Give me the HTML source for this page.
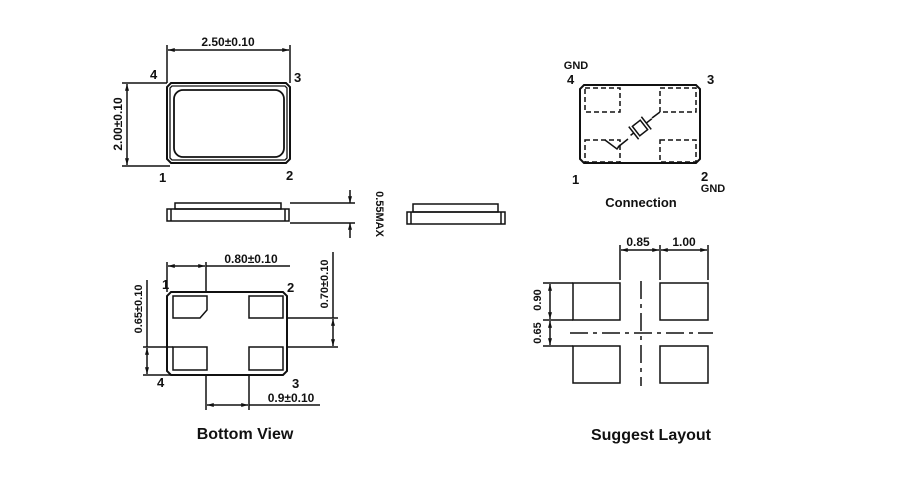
<!DOCTYPE html>
<html><head><meta charset="utf-8"><style>
html,body{margin:0;padding:0;background:#fff;}
svg{display:block;}
text{font-family:"Liberation Sans",Arial,sans-serif;font-weight:bold;fill:#111;}
</style></head><body>
<svg width="900" height="500" viewBox="0 0 900 500" xmlns="http://www.w3.org/2000/svg">
<defs>
<marker id="a" viewBox="0 0 10 10" refX="10" refY="5" markerWidth="6" markerHeight="4.5" orient="auto-start-reverse"><path d="M0,2 L10,5 L0,8 z" fill="#111"/></marker>
</defs>
<g stroke="#111" fill="none" stroke-width="1.5">
<!-- TOP VIEW -->
<path d="M171,83 H286 L290,87 V159 L286,163 H171 L167,159 V87 Z" stroke-width="2"/>
<path d="M172,86 H285 L287,88 V158 L285,160 H172 L170,158 V88 Z" stroke-width="1.3"/>
<rect x="174" y="90" width="110" height="67" rx="9" stroke-width="1.8"/>
<line x1="167" y1="45" x2="167" y2="83"/>
<line x1="290" y1="45" x2="290" y2="83"/>
<line x1="168" y1="50" x2="289" y2="50" marker-start="url(#a)" marker-end="url(#a)"/>
<line x1="122" y1="83" x2="167" y2="83"/>
<line x1="122" y1="166" x2="170" y2="166"/>
<line x1="127" y1="84" x2="127" y2="165" marker-start="url(#a)" marker-end="url(#a)"/>
<!-- side view 1 -->
<rect x="175" y="203" width="106" height="6"/>
<rect x="167" y="209" width="122" height="12"/>
<line x1="171" y1="209" x2="171" y2="221"/><line x1="285" y1="209" x2="285" y2="221"/>
<line x1="290" y1="203" x2="355" y2="203"/>
<line x1="290" y1="223" x2="355" y2="223"/>
<line x1="350" y1="190" x2="350" y2="203" marker-end="url(#a)"/>
<line x1="350" y1="238" x2="350" y2="223" marker-end="url(#a)"/>
<!-- side view 2 -->
<rect x="413" y="204" width="85" height="8"/>
<rect x="407" y="212" width="98" height="12"/>
<line x1="411" y1="212" x2="411" y2="224"/><line x1="501" y1="212" x2="501" y2="224"/>
<!-- BOTTOM VIEW -->
<path d="M171,292 H283 L287,296 V371 L283,375 H171 L167,371 V296 Z" stroke-width="2"/>
<path d="M173,296 H207 V310 L200,318 H173 Z"/>
<rect x="249" y="296" width="34" height="22"/>
<rect x="173" y="347" width="34" height="23"/>
<rect x="249" y="347" width="34" height="23"/>
<line x1="167" y1="262" x2="167" y2="292"/>
<line x1="206" y1="262" x2="206" y2="292"/>
<line x1="168" y1="266" x2="205" y2="266" marker-start="url(#a)" marker-end="url(#a)"/>
<line x1="206" y1="266" x2="290" y2="266"/>
<line x1="143" y1="347" x2="173" y2="347"/>
<line x1="143" y1="375" x2="173" y2="375"/>
<line x1="147" y1="280" x2="147" y2="347"/>
<line x1="147" y1="348" x2="147" y2="374" marker-start="url(#a)" marker-end="url(#a)"/>
<line x1="287" y1="318" x2="338" y2="318"/>
<line x1="287" y1="347" x2="338" y2="347"/>
<line x1="333" y1="252" x2="333" y2="318"/>
<line x1="333" y1="319" x2="333" y2="346" marker-start="url(#a)" marker-end="url(#a)"/>
<line x1="206" y1="375" x2="206" y2="410"/>
<line x1="249" y1="375" x2="249" y2="410"/>
<line x1="207" y1="405" x2="248" y2="405" marker-start="url(#a)" marker-end="url(#a)"/>
<line x1="249" y1="405" x2="320" y2="405"/>
<!-- CONNECTION -->
<path d="M584,85 H696 L700,89 V159 L696,163 H584 L580,159 V89 Z" stroke-width="2"/>
<g stroke-dasharray="5,3">
<rect x="585" y="88" width="35" height="24"/>
<rect x="660" y="88" width="36" height="24"/>
<rect x="585" y="140" width="35" height="22"/>
<rect x="660" y="140" width="36" height="22"/>
</g>
<path d="M605,140 L617,149 L620,145"/>
<line x1="618" y1="147" x2="628" y2="139"/>
<line x1="660" y1="112" x2="652" y2="118"/>
<g transform="translate(640,128) rotate(-38)">
<line x1="-12" y1="0" x2="-8" y2="0"/>
<line x1="-8" y1="-8" x2="-8" y2="8"/>
<rect x="-5" y="-6" width="10" height="12"/>
<line x1="8" y1="-8" x2="8" y2="8"/>
<line x1="8" y1="0" x2="15" y2="0"/>
</g>
<!-- SUGGEST LAYOUT -->
<rect x="573" y="283" width="47" height="37"/>
<rect x="660" y="283" width="48" height="37"/>
<rect x="573" y="346" width="47" height="37"/>
<rect x="660" y="346" width="48" height="37"/>
<line x1="570" y1="333" x2="713" y2="333" stroke-dasharray="18,5,4,5"/>
<line x1="641" y1="281" x2="641" y2="386" stroke-dasharray="18,5,4,5"/>
<line x1="620" y1="245" x2="620" y2="280"/>
<line x1="660" y1="245" x2="660" y2="280"/>
<line x1="708" y1="245" x2="708" y2="280"/>
<line x1="621" y1="250" x2="659" y2="250" marker-start="url(#a)" marker-end="url(#a)"/>
<line x1="661" y1="250" x2="707" y2="250" marker-start="url(#a)" marker-end="url(#a)"/>
<line x1="543" y1="283" x2="573" y2="283"/>
<line x1="543" y1="320" x2="573" y2="320"/>
<line x1="543" y1="346" x2="573" y2="346"/>
<line x1="550" y1="284" x2="550" y2="319" marker-start="url(#a)" marker-end="url(#a)"/>
<line x1="550" y1="321" x2="550" y2="345" marker-start="url(#a)" marker-end="url(#a)"/>
</g>
<!-- labels -->
<g font-size="12">
<text x="228" y="46" text-anchor="middle">2.50±0.10</text>
<text x="150" y="79" font-size="13">4</text>
<text x="294" y="82" font-size="13">3</text>
<text x="159" y="182" font-size="13">1</text>
<text x="286" y="180" font-size="13">2</text>
<text transform="translate(122,124) rotate(-90)" text-anchor="middle">2.00±0.10</text>
<text transform="translate(376,214) rotate(90)" text-anchor="middle" font-size="11">0.55MAX</text>
<text x="251" y="263" text-anchor="middle">0.80±0.10</text>
<text transform="translate(142,309) rotate(-90)" text-anchor="middle" font-size="11">0.65±0.10</text>
<text transform="translate(328,284) rotate(-90)" text-anchor="middle" font-size="11">0.70±0.10</text>
<text x="162" y="289" font-size="13">1</text>
<text x="287" y="292" font-size="13">2</text>
<text x="157" y="387" font-size="13">4</text>
<text x="292" y="388" font-size="13">3</text>
<text x="291" y="402" text-anchor="middle">0.9±0.10</text>
<text x="245" y="439" text-anchor="middle" font-size="16">Bottom View</text>
<text x="576" y="69" text-anchor="middle" font-size="11">GND</text>
<text x="567" y="84" font-size="13">4</text>
<text x="707" y="84" font-size="13">3</text>
<text x="572" y="184" font-size="13">1</text>
<text x="701" y="181" font-size="13">2</text>
<text x="713" y="192" text-anchor="middle" font-size="11">GND</text>
<text x="641" y="207" text-anchor="middle" font-size="13">Connection</text>
<text x="638" y="246" text-anchor="middle">0.85</text>
<text x="684" y="246" text-anchor="middle">1.00</text>
<text transform="translate(541,300) rotate(-90)" text-anchor="middle" font-size="11">0.90</text>
<text transform="translate(541,333) rotate(-90)" text-anchor="middle" font-size="11">0.65</text>
<text x="651" y="440" text-anchor="middle" font-size="16">Suggest Layout</text>
</g>
</svg>
</body></html>
